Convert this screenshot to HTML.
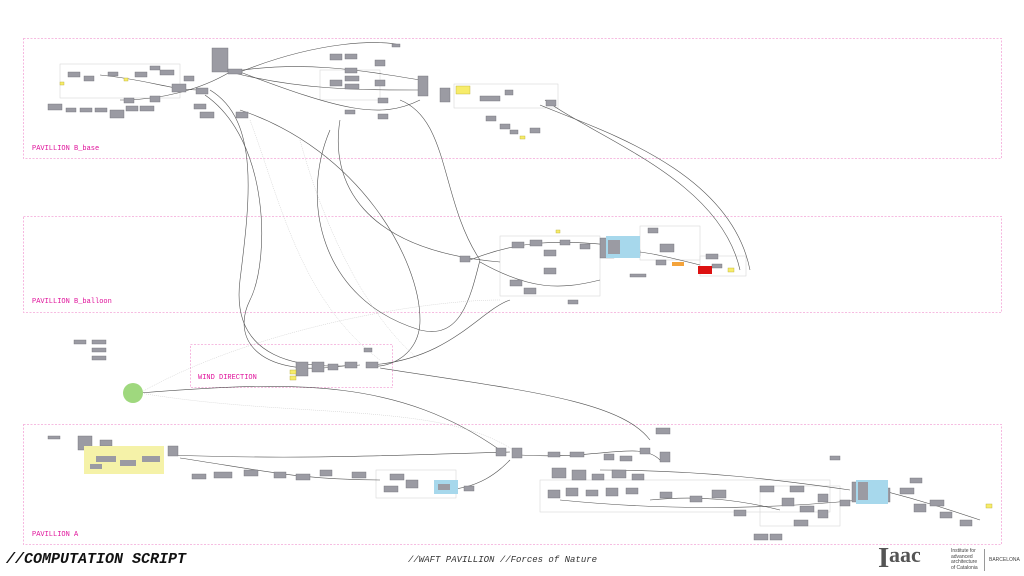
<!DOCTYPE html>
<html><head><meta charset="utf-8"><style>
html,body{margin:0;padding:0;background:#fff;width:1024px;height:576px;overflow:hidden}
svg{position:absolute;left:0;top:0}
.t{position:absolute;font-family:"Liberation Mono",monospace;white-space:nowrap}
</style></head><body>
<svg width="1024" height="576" viewBox="0 0 1024 576">
<g fill="none" stroke="#f4a6d8" stroke-width="0.8" stroke-dasharray="2,1.5">
<rect x="23.5" y="38.5" width="978" height="120"/>
<rect x="23.5" y="216.5" width="978" height="96"/>
<rect x="190.5" y="344.5" width="202" height="43"/>
<rect x="23.5" y="424.5" width="978" height="120"/>
</g>
<g fill="none" stroke="#d8d8d8" stroke-width="0.6">
<rect x="60" y="64" width="120" height="34"/><rect x="320" y="70" width="60" height="30"/>
<rect x="454" y="84" width="104" height="24"/><rect x="500" y="236" width="100" height="60"/>
<rect x="640" y="226" width="60" height="34"/><rect x="700" y="256" width="46" height="20"/>
<rect x="376" y="470" width="80" height="28"/><rect x="540" y="480" width="290" height="32"/>
<rect x="760" y="486" width="80" height="40"/>
</g>
<g fill="none" stroke="#333" stroke-width="0.6" opacity="0.85">
<path d="M230 72 C300 60 360 70 420 80"/><path d="M230 72 C300 90 360 90 420 90"/>
<path d="M240 72 C320 40 380 40 400 45"/><path d="M240 72 C340 110 380 120 420 100"/>
<path d="M210 90 C260 120 250 200 240 280 C230 360 300 370 360 365"/>
<path d="M205 95 C270 140 270 260 250 300 C230 340 260 380 350 365"/>
<path d="M240 110 C360 150 420 260 420 320 C420 360 380 370 370 365"/>
<path d="M330 130 C300 200 320 300 420 330 C460 340 470 300 480 260"/>
<path d="M340 120 C330 180 360 250 500 262"/>
<path d="M400 100 C450 120 440 200 480 260"/>
<path d="M540 105 C600 130 730 170 750 270"/><path d="M545 100 C600 140 720 180 740 270"/>
<path d="M370 365 C450 360 480 310 510 300"/><path d="M380 368 C520 390 620 400 650 440"/>
<path d="M140 393 C300 380 400 380 500 450"/><path d="M170 455 C300 460 400 455 510 452"/>
<path d="M180 458 C260 470 300 480 380 480"/><path d="M520 455 C600 460 640 440 660 460"/>
<path d="M600 470 C700 470 780 480 850 490"/><path d="M560 500 C660 510 760 510 860 500"/>
<path d="M880 490 C920 500 950 510 980 520"/><path d="M610 250 C640 250 660 255 700 265"/>
<path d="M470 260 C520 240 560 240 610 245"/><path d="M480 262 C530 290 560 290 600 280"/>
<path d="M100 75 C150 80 170 90 200 90"/><path d="M120 100 C160 100 200 90 230 72"/>
<path d="M650 500 C700 495 740 500 780 510"/><path d="M440 490 C480 490 500 470 510 460"/>
</g>
<g fill="none" stroke="#bbb" stroke-width="0.4" stroke-dasharray="1,1">
<path d="M300 140 C330 250 380 330 420 360"/><path d="M140 393 C250 330 420 300 500 300"/>
<path d="M140 393 C300 420 450 400 520 455"/><path d="M250 120 C280 200 300 300 380 360"/>
</g>
<g fill="#9b9ba3" stroke="#6e6e75" stroke-width="0.4">
<rect x="212" y="48" width="16" height="24"/><rect x="228" y="69" width="14" height="5"/>
<rect x="150" y="66" width="10" height="4"/><rect x="135" y="72" width="12" height="5"/><rect x="160" y="70" width="14" height="5"/>
<rect x="68" y="72" width="12" height="5"/><rect x="84" y="76" width="10" height="5"/><rect x="108" y="72" width="10" height="4"/>
<rect x="172" y="84" width="14" height="8"/><rect x="184" y="76" width="10" height="5"/><rect x="196" y="88" width="12" height="6"/>
<rect x="150" y="96" width="10" height="6"/><rect x="124" y="98" width="10" height="5"/><rect x="110" y="110" width="14" height="8"/>
<rect x="48" y="104" width="14" height="6"/><rect x="66" y="108" width="10" height="4"/><rect x="80" y="108" width="12" height="4"/>
<rect x="95" y="108" width="12" height="4"/><rect x="126" y="106" width="12" height="5"/><rect x="140" y="106" width="14" height="5"/>
<rect x="194" y="104" width="12" height="5"/><rect x="200" y="112" width="14" height="6"/><rect x="236" y="112" width="12" height="6"/>
<rect x="330" y="54" width="12" height="6"/><rect x="345" y="54" width="12" height="5"/><rect x="345" y="68" width="12" height="5"/>
<rect x="330" y="80" width="12" height="6"/><rect x="345" y="76" width="14" height="5"/><rect x="345" y="84" width="14" height="5"/>
<rect x="375" y="60" width="10" height="6"/><rect x="375" y="80" width="10" height="6"/><rect x="392" y="44" width="8" height="3"/>
<rect x="378" y="98" width="10" height="5"/><rect x="378" y="114" width="10" height="5"/><rect x="345" y="110" width="10" height="4"/>
<rect x="418" y="76" width="10" height="20"/><rect x="440" y="88" width="10" height="14"/><rect x="480" y="96" width="20" height="5"/>
<rect x="505" y="90" width="8" height="5"/><rect x="486" y="116" width="10" height="5"/><rect x="500" y="124" width="10" height="5"/>
<rect x="510" y="130" width="8" height="4"/><rect x="530" y="128" width="10" height="5"/><rect x="546" y="100" width="10" height="6"/>
<rect x="460" y="256" width="10" height="6"/><rect x="512" y="242" width="12" height="6"/><rect x="530" y="240" width="12" height="6"/>
<rect x="544" y="250" width="12" height="6"/><rect x="544" y="268" width="12" height="6"/><rect x="510" y="280" width="12" height="6"/>
<rect x="524" y="288" width="12" height="6"/><rect x="560" y="240" width="10" height="5"/><rect x="580" y="244" width="10" height="5"/>
<rect x="600" y="238" width="14" height="20"/><rect x="630" y="250" width="10" height="6"/><rect x="660" y="244" width="14" height="8"/>
<rect x="648" y="228" width="10" height="5"/><rect x="656" y="260" width="10" height="5"/><rect x="706" y="254" width="12" height="5"/>
<rect x="712" y="264" width="10" height="4"/><rect x="630" y="274" width="16" height="3"/><rect x="568" y="300" width="10" height="4"/>
<rect x="74" y="340" width="12" height="4"/><rect x="92" y="340" width="14" height="4"/><rect x="92" y="348" width="14" height="4"/><rect x="92" y="356" width="14" height="4"/>
<rect x="296" y="362" width="12" height="14"/><rect x="312" y="362" width="12" height="10"/><rect x="328" y="364" width="10" height="6"/>
<rect x="345" y="362" width="12" height="6"/><rect x="366" y="362" width="12" height="6"/><rect x="364" y="348" width="8" height="4"/>
<rect x="78" y="436" width="14" height="14"/><rect x="100" y="440" width="12" height="6"/><rect x="48" y="436" width="12" height="3"/>
<rect x="168" y="446" width="10" height="10"/><rect x="192" y="474" width="14" height="5"/><rect x="214" y="472" width="18" height="6"/>
<rect x="244" y="470" width="14" height="6"/><rect x="274" y="472" width="12" height="6"/><rect x="296" y="474" width="14" height="6"/>
<rect x="320" y="470" width="12" height="6"/><rect x="352" y="472" width="14" height="6"/><rect x="390" y="474" width="14" height="6"/>
<rect x="406" y="480" width="12" height="8"/><rect x="384" y="486" width="14" height="6"/><rect x="464" y="486" width="10" height="5"/>
<rect x="496" y="448" width="10" height="8"/><rect x="512" y="448" width="10" height="10"/><rect x="548" y="452" width="12" height="5"/>
<rect x="570" y="452" width="14" height="5"/><rect x="604" y="454" width="10" height="6"/><rect x="620" y="456" width="12" height="5"/>
<rect x="640" y="448" width="10" height="6"/><rect x="656" y="428" width="14" height="6"/><rect x="660" y="452" width="10" height="10"/>
<rect x="552" y="468" width="14" height="10"/><rect x="572" y="470" width="14" height="10"/><rect x="592" y="474" width="12" height="6"/>
<rect x="612" y="470" width="14" height="8"/><rect x="632" y="474" width="12" height="6"/><rect x="548" y="490" width="12" height="8"/>
<rect x="566" y="488" width="12" height="8"/><rect x="586" y="490" width="12" height="6"/><rect x="606" y="488" width="12" height="8"/>
<rect x="626" y="488" width="12" height="6"/><rect x="660" y="492" width="12" height="6"/><rect x="690" y="496" width="12" height="6"/>
<rect x="712" y="490" width="14" height="8"/><rect x="734" y="510" width="12" height="6"/><rect x="760" y="486" width="14" height="6"/>
<rect x="790" y="486" width="14" height="6"/><rect x="782" y="498" width="12" height="8"/><rect x="800" y="506" width="14" height="6"/>
<rect x="818" y="494" width="10" height="8"/><rect x="818" y="510" width="10" height="8"/><rect x="794" y="520" width="14" height="6"/>
<rect x="830" y="456" width="10" height="4"/><rect x="852" y="482" width="12" height="20"/><rect x="880" y="488" width="10" height="14"/>
<rect x="900" y="488" width="14" height="6"/><rect x="910" y="478" width="12" height="5"/><rect x="914" y="504" width="12" height="8"/>
<rect x="930" y="500" width="14" height="6"/><rect x="940" y="512" width="12" height="6"/><rect x="960" y="520" width="12" height="6"/>
<rect x="754" y="534" width="14" height="6"/><rect x="770" y="534" width="12" height="6"/><rect x="840" y="500" width="10" height="6"/>
</g>
<g fill="#f7ec6a" stroke="#b8ad30" stroke-width="0.4">
<rect x="456" y="86" width="14" height="8"/><rect x="60" y="82" width="4" height="3"/><rect x="124" y="78" width="4" height="3"/>
<rect x="556" y="230" width="4" height="3"/><rect x="728" y="268" width="6" height="4"/><rect x="986" y="504" width="6" height="4"/>
<rect x="290" y="370" width="6" height="4"/><rect x="290" y="376" width="6" height="4"/><rect x="520" y="136" width="5" height="3"/>
</g>
<rect x="84" y="446" width="80" height="28" fill="#f5f2a8"/>
<g fill="#9b9ba3"><rect x="96" y="456" width="20" height="6"/><rect x="120" y="460" width="16" height="6"/><rect x="142" y="456" width="18" height="6"/><rect x="90" y="464" width="12" height="5"/></g>
<rect x="606" y="236" width="34" height="22" fill="#a7d8ec"/><rect x="608" y="240" width="12" height="14" fill="#9b9ba3"/>
<rect x="434" y="480" width="24" height="14" fill="#a7d8ec"/><rect x="438" y="484" width="12" height="6" fill="#9b9ba3"/>
<rect x="856" y="480" width="32" height="24" fill="#a7d8ec"/><rect x="858" y="482" width="10" height="18" fill="#9b9ba3"/>
<rect x="698" y="266" width="14" height="8" fill="#d11"/><rect x="672" y="262" width="12" height="4" fill="#f4a33a"/>
<circle cx="133" cy="393" r="10" fill="#9fd87e"/>
<rect x="984" y="549" width="1" height="22" fill="#999"/>
</svg>
<div class="t" style="left:32px;top:145px;font-size:7px;color:#e0109a">PAVILLION B_base</div>
<div class="t" style="left:32px;top:298px;font-size:7px;color:#e0109a">PAVILLION B_balloon</div>
<div class="t" style="left:198px;top:374px;font-size:7px;color:#e0109a">WIND DIRECTION</div>
<div class="t" style="left:32px;top:531px;font-size:7px;color:#e0109a">PAVILLION A</div>
<div class="t" style="left:6px;top:551px;font-size:15px;font-weight:bold;font-style:italic;color:#111">//COMPUTATION SCRIPT</div>
<div class="t" style="left:408px;top:555px;font-size:9px;font-style:italic;color:#333">//WAFT PAVILLION //Forces of Nature</div>
<div class="t" style="left:878px;top:543px;font-family:'Liberation Serif',serif;font-size:29px;line-height:30px;font-weight:bold;color:#555">I</div>
<div class="t" style="left:889px;top:542px;font-family:'Liberation Serif',serif;font-size:22px;line-height:26px;font-weight:bold;color:#555;letter-spacing:0px">aac</div>
<div class="t" style="left:951px;top:549px;font-family:'Liberation Sans',sans-serif;font-size:5px;line-height:5.5px;color:#444">Institute for<br>advanced<br>architecture<br>of Catalonia</div>
<div class="t" style="left:989px;top:557px;font-family:'Liberation Sans',sans-serif;font-size:5px;color:#444">BARCELONA</div>
</body></html>
